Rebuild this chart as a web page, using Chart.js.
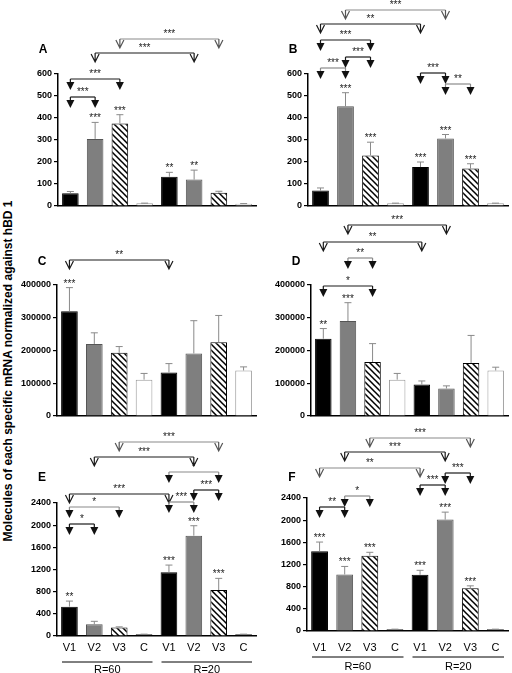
<!DOCTYPE html>
<html>
<head>
<meta charset="utf-8">
<script src="https://cdn.jsdelivr.net/npm/chart.js@4/dist/chart.umd.min.js"></script>
<style>
  body { margin: 0; background: #fff; }
  #wrap { position: relative; width: 512px; height: 673px; overflow: hidden; }
  canvas { position: absolute; }
  #ytitle {
    position: absolute; left: -192px; top: 364px; width: 400px; text-align: center;
    font: bold 12px "Liberation Sans", Arial, sans-serif; color: #000;
    transform: rotate(-90deg); white-space: nowrap;
  }
</style>
</head>
<body>
<div id="wrap">
  <div id="ytitle">Molecules of each specific mRNA normalized against hBD 1</div>
</div>
<script>
// categories and groups
const categories = ['V1', 'V2', 'V3', 'C', 'V1', 'V2', 'V3', 'C'];
const groups = ['R=60', 'R=20'];

// tick labels
const ticksAB = [0, 100, 200, 300, 400, 500, 600];
const ticksCD = [0, 100000, 200000, 300000, 400000];
const ticksEF = [0, 400, 800, 1200, 1600, 2000, 2400];

// values (mean) + error (SEM) + significance
const valuesA = [58, 305, 375, 12, 133, 120, 60, 10];
const errA = [8, 75, 40, 1, 20, 43, 7, 1];
const sigA = ['', '***', '***', '', '**', '**', '', ''];

const valuesB = [70, 453, 230, 12, 177, 307, 170, 12];
const errB = [12, 62, 60, 1, 23, 18, 22, 1];
const sigB = ['', '***', '***', '', '***', '***', '***', ''];

const valuesC = [320000, 220000, 193000, 111000, 133000, 191000, 225000, 139000];
const errC = [72000, 34000, 19000, 19000, 27000, 100000, 82000, 11000];
const sigC = ['***', '', '', '', '', '', '', ''];

const valuesD = [236000, 290000, 165000, 111000, 96000, 84000, 162000, 139000];
const errD = [31000, 56000, 56000, 19000, 11000, 8000, 84000, 10000];
const sigD = ['**', '***', '', '', '', '', '', ''];

const valuesE = [530, 210, 155, 30, 1150, 1810, 830, 30];
const errE = [100, 55, 10, 3, 130, 180, 210, 3];
const sigE = ['**', '', '', '', '***', '***', '***', ''];

const valuesF = [1440, 1020, 1360, 30, 1015, 2010, 770, 30];
const errF = [165, 145, 60, 3, 80, 135, 45, 3];
const sigF = ['***', '***', '***', '', '***', '***', '***', ''];

// comparison brackets: bar i vs bar j, label, open arrow (between ratios), level above plot top
const bracketsA = [
  { i: 0, j: 1, label: '***', open: false, dy: 23 },
  { i: 0, j: 2, label: '***', open: false, dy: 5 },
  { i: 1, j: 5, label: '***', open: true, dy: -21 },
  { i: 2, j: 6, label: '***', open: true, dy: -35, gray: true }
];
const bracketsB = [
  { i: 0, j: 1, label: '***', open: false, dy: -6, gray: true },
  { i: 1, j: 2, label: '***', open: false, dy: -17 },
  { i: 0, j: 2, label: '***', open: false, dy: -34 },
  { i: 0, j: 4, label: '**', open: true, dy: -50 },
  { i: 1, j: 5, label: '***', open: true, dy: -64, gray: true },
  { i: 4, j: 5, label: '***', open: false, dy: -1 },
  { i: 5, j: 6, label: '**', open: false, dy: 10, gray: true }
];
const bracketsC = [
  { i: 0, j: 4, label: '**', open: true, dy: -25 }
];
const bracketsD = [
  { i: 0, j: 2, label: '*', open: false, dy: 1 },
  { i: 1, j: 2, label: '**', open: false, dy: -27, gray: true },
  { i: 0, j: 4, label: '**', open: true, dy: -43 },
  { i: 1, j: 5, label: '***', open: true, dy: -60 }
];
const bracketsE = [
  { i: 0, j: 1, label: '*', open: false, dy: 21 },
  { i: 0, j: 2, label: '*', open: false, dy: 4, gray: true },
  { i: 0, j: 4, label: '***', open: true, dy: -9 },
  { i: 4, j: 5, label: '***', open: false, dy: -1, gray: true },
  { i: 5, j: 6, label: '***', open: false, dy: -13 },
  { i: 4, j: 6, label: '*', open: false, dy: -31, gray: true },
  { i: 1, j: 5, label: '***', open: true, dy: -46 },
  { i: 2, j: 6, label: '***', open: true, dy: -61, gray: true }
];
const bracketsF = [
  { i: 0, j: 1, label: '**', open: false, dy: 9 },
  { i: 1, j: 2, label: '*', open: false, dy: -2, gray: true },
  { i: 0, j: 4, label: '**', open: true, dy: -30, gray: true },
  { i: 1, j: 5, label: '***', open: true, dy: -46 },
  { i: 2, j: 6, label: '***', open: true, dy: -60, gray: true },
  { i: 4, j: 5, label: '***', open: false, dy: -13 },
  { i: 5, j: 6, label: '***', open: false, dy: -25 }
];

const FONT = '"Liberation Sans", Arial, sans-serif';

function hatch() {
  const c = document.createElement('canvas');
  c.width = 6; c.height = 6;
  const g = c.getContext('2d');
  g.fillStyle = '#fff';
  g.fillRect(0, 0, 6, 6);
  g.strokeStyle = '#000';
  g.lineWidth = 1.5;
  g.beginPath();
  g.moveTo(-1, -1); g.lineTo(7, 7);
  g.moveTo(-1, 5); g.lineTo(1, 7);
  g.moveTo(5, -1); g.lineTo(7, 1);
  g.stroke();
  return g.createPattern(c, 'repeat');
}

function filledArrow(ctx, x, y, col) {
  ctx.strokeStyle = col;
  ctx.beginPath(); ctx.moveTo(x, y); ctx.lineTo(x, y + 3); ctx.stroke();
  ctx.fillStyle = '#111';
  ctx.beginPath();
  ctx.moveTo(x - 4, y + 3); ctx.lineTo(x + 4, y + 3); ctx.lineTo(x, y + 11);
  ctx.closePath(); ctx.fill();
}

function openArrow(ctx, x, y, col) {
  ctx.strokeStyle = col;
  ctx.beginPath();
  ctx.moveTo(x, y); ctx.lineTo(x, y + 8);
  ctx.moveTo(x - 4, y + 1); ctx.lineTo(x, y + 9); ctx.lineTo(x + 4, y + 1);
  ctx.stroke();
}

function makeDeco(cfg) {
  return {
    id: 'deco' + cfg.letter,
    afterDatasetsDraw(chart) {
      const ctx = chart.ctx, xs = chart.scales.x, ys = chart.scales.y, a = chart.chartArea;
      const cx = i => xs.getPixelForValue(i);
      ctx.save();
      // error bars (upper only)
      ctx.strokeStyle = '#8a8a8a';
      ctx.lineWidth = 1;
      cfg.values.forEach((v, i) => {
        const x = cx(i), y0 = ys.getPixelForValue(v), y1 = ys.getPixelForValue(v + cfg.err[i]);
        ctx.beginPath();
        ctx.moveTo(x, y0); ctx.lineTo(x, y1);
        ctx.moveTo(x - 3.5, y1); ctx.lineTo(x + 3.5, y1);
        ctx.stroke();
      });
      // stars over bars
      ctx.font = '10px ' + FONT;
      ctx.textAlign = 'center';
      ctx.textBaseline = 'alphabetic';
      ctx.fillStyle = '#222';
      cfg.sig.forEach((s, i) => {
        if (!s) return;
        const y1 = ys.getPixelForValue(cfg.values[i] + cfg.err[i]);
        ctx.fillText(s, cx(i), y1 - 1);
      });
      // comparison brackets
      cfg.brackets.forEach(b => {
        const x1 = cx(b.i), x2 = cx(b.j), y = a.top + b.dy;
        const col = b.gray ? '#8a8a8a' : '#1a1a1a';
        ctx.strokeStyle = col;
        ctx.lineWidth = 1.2;
        ctx.beginPath(); ctx.moveTo(x1, y); ctx.lineTo(x2, y); ctx.stroke();
        [x1, x2].forEach(x => b.open ? openArrow(ctx, x, y, b.gray ? '#555' : '#1a1a1a') : filledArrow(ctx, x, y, col));
        ctx.fillStyle = '#222';
        ctx.fillText(b.label, (x1 + x2) / 2, y - 2);
      });
      // panel letter
      ctx.fillStyle = '#000';
      ctx.font = 'bold 12px ' + FONT;
      ctx.textBaseline = 'middle';
      ctx.fillText(cfg.letter, a.left - 15, a.top + cfg.letterDy);
      // category labels and group labels under the axis
      if (cfg.groups) {
        ctx.font = '11px ' + FONT;
        categories.forEach((c, i) => ctx.fillText(c, cx(i), a.bottom + cfg.labelDy));
        const slot = xs.width / categories.length;
        ctx.strokeStyle = '#000';
        ctx.lineWidth = 1;
        groups.forEach((g, k) => {
          const xa = cx(k * 4) - slot / 2 + 5, xb = cx(k * 4 + 3) + slot / 2 - 4;
          ctx.beginPath(); ctx.moveTo(xa, a.bottom + 26); ctx.lineTo(xb, a.bottom + 26); ctx.stroke();
          ctx.fillText(g, (xa + xb) / 2, a.bottom + cfg.groupDy);
        });
      }
      ctx.restore();
    }
  };
}

function drawPanel(p) {
  const cv = document.createElement('canvas');
  cv.width = p.w; cv.height = p.h;
  cv.style.left = p.left + 'px';
  cv.style.top = p.top + 'px';
  document.getElementById('wrap').appendChild(cv);
  const pat = hatch();
  const cFill = p.darkC ? '#111' : '#fff';
  const cBorder = p.darkC ? '#000' : '#999';
  new Chart(cv, {
    type: 'bar',
    data: {
      labels: categories,
      datasets: [{
        data: p.values,
        backgroundColor: ['#000', '#7f7f7f', pat, cFill, '#000', '#7f7f7f', pat, cFill],
        borderColor: ['#000', '#555', '#000', cBorder, '#000', '#555', '#000', cBorder],
        borderWidth: 1,
        barPercentage: 0.67,
        categoryPercentage: 1
      }]
    },
    options: {
      responsive: false,
      animation: false,
      events: [],
      layout: { padding: { top: p.padTop, right: 4, bottom: p.padBottom, left: 0 } },
      plugins: { legend: { display: false }, tooltip: { enabled: false } },
      scales: {
        x: {
          grid: { display: false, drawTicks: false, tickLength: 0 },
          border: { display: true, color: '#000', width: 1.5 },
          ticks: { display: false },
          afterFit: s => { s.height = p.xH; }
        },
        y: {
          min: 0,
          max: p.ticks[p.ticks.length - 1],
          afterBuildTicks: s => { s.ticks = p.ticks.map(v => ({ value: v })); },
          afterFit: s => { s.width = 50; },
          grid: { display: true, drawOnChartArea: false, drawTicks: true, tickLength: 4, color: '#000', lineWidth: 1.2 },
          border: { display: true, color: '#000', width: 1.5 },
          ticks: { color: '#000', padding: 2, font: { family: FONT, size: 9, weight: 'bold' }, callback: v => String(v) }
        }
      }
    },
    plugins: [makeDeco(p)]
  });
}

[
  { letter: 'A', values: valuesA, err: errA, sig: sigA, brackets: bracketsA, ticks: ticksAB,
    left: 8, top: 0, w: 252, h: 214, padTop: 74, padBottom: 8, xH: 0, letterDy: -24 },
  { letter: 'B', values: valuesB, err: errB, sig: sigB, brackets: bracketsB, ticks: ticksAB,
    left: 258, top: 0, w: 254, h: 214, padTop: 74, padBottom: 8, xH: 0, letterDy: -24 },
  { letter: 'C', values: valuesC, err: errC, sig: sigC, brackets: bracketsC, ticks: ticksCD,
    left: 7, top: 212, w: 253, h: 212, padTop: 73, padBottom: 8, xH: 0, letterDy: -23 },
  { letter: 'D', values: valuesD, err: errD, sig: sigD, brackets: bracketsD, ticks: ticksCD,
    left: 261, top: 212, w: 251, h: 212, padTop: 73, padBottom: 8, xH: 0, letterDy: -23 },
  { letter: 'E', values: valuesE, err: errE, sig: sigE, brackets: bracketsE, ticks: ticksEF,
    left: 7, top: 422, w: 253, h: 251, padTop: 81, padBottom: 0, xH: 37, labelDy: 12, groupDy: 34,
    letterDy: -25, groups: true, darkC: true },
  { letter: 'F', values: valuesF, err: errF, sig: sigF, brackets: bracketsF, ticks: ticksEF,
    left: 257, top: 422, w: 255, h: 251, padTop: 76, padBottom: 0, xH: 42, labelDy: 17, groupDy: 36,
    letterDy: -20, groups: true, darkC: true }
].forEach(drawPanel);
</script>
</body>
</html>
